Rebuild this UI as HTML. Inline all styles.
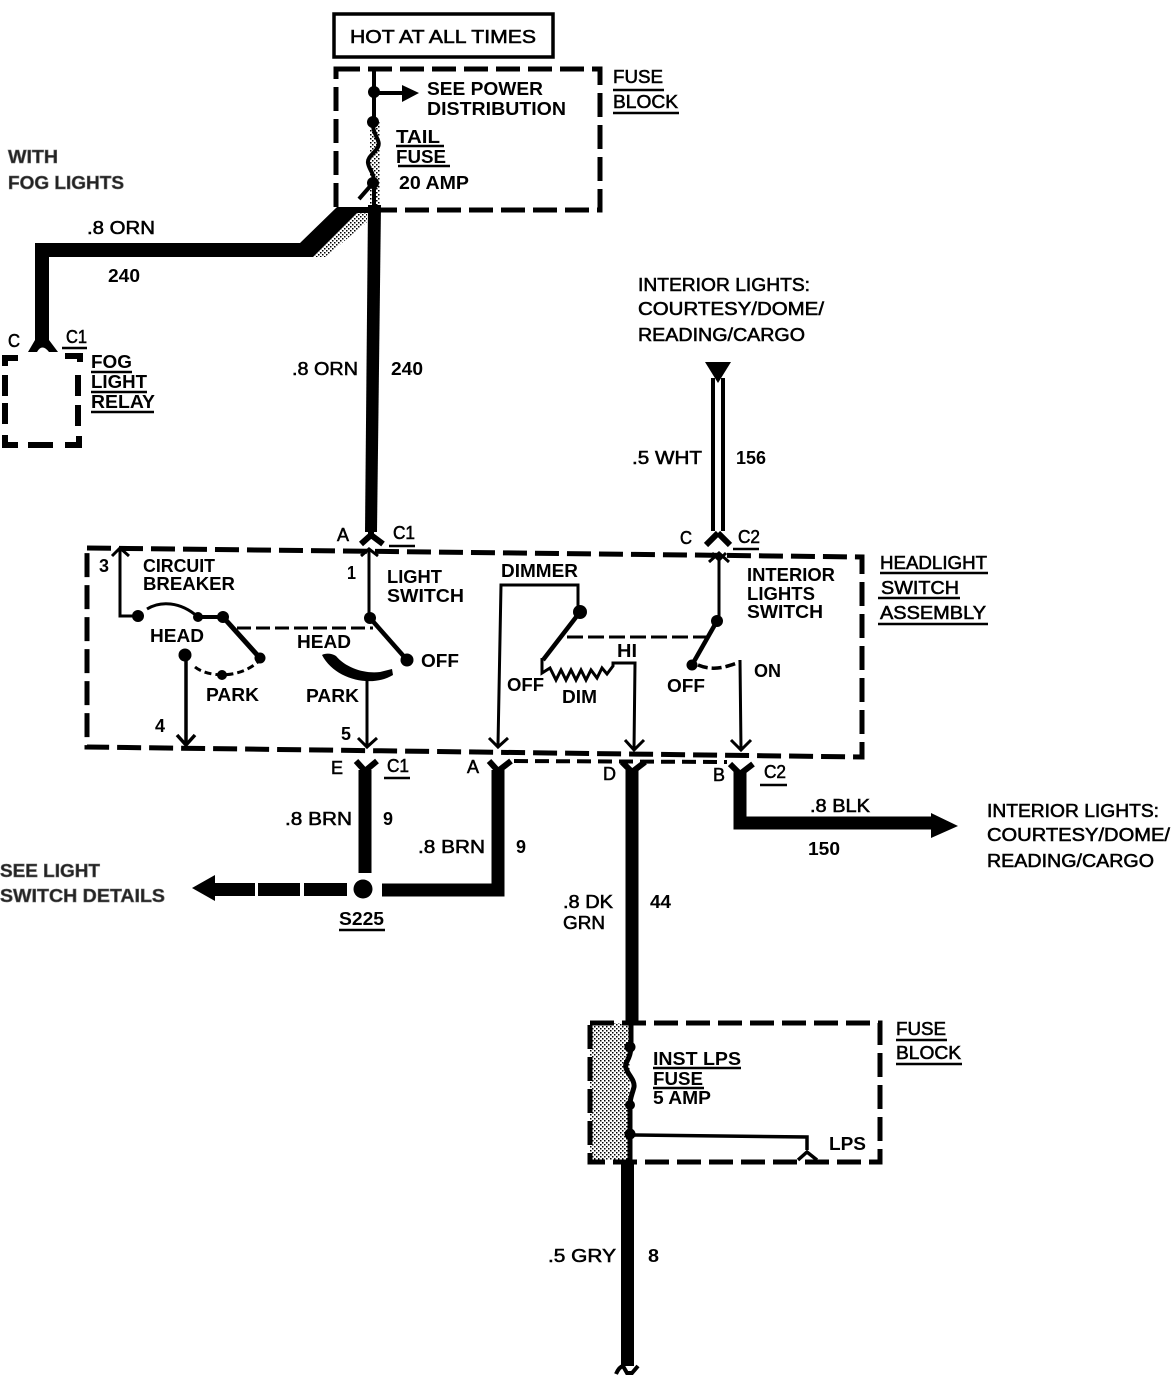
<!DOCTYPE html>
<html><head><meta charset="utf-8"><style>
html,body{margin:0;padding:0;background:#fff}
svg{display:block}
text{font-family:"Liberation Sans",sans-serif;font-size:18px;font-weight:bold;fill:#000}
.r{font-weight:normal;stroke:#000;stroke-width:.55px}
.g{fill:#222;stroke:#666;stroke-width:.6px}
.k{fill:none;stroke:#000}
.d{fill:none;stroke:#000;stroke-dasharray:24 8;stroke-width:5}
</style></head><body>
<svg width="1172" height="1376" viewBox="0 0 1172 1376" xmlns="http://www.w3.org/2000/svg">
<defs><pattern id="st" width="4" height="4" patternUnits="userSpaceOnUse"><rect width="4" height="4" fill="#fff"/><rect width="1.5" height="1.5" fill="#000"/><rect x="2" y="2" width="1.5" height="1.5" fill="#000"/></pattern></defs>

<!-- top box -->
<rect x="334" y="14" width="219" height="43" fill="none" stroke="#000" stroke-width="3.5"/>
<text class="r" x="350" y="43" textLength="186" lengthAdjust="spacingAndGlyphs">HOT AT ALL TIMES</text>

<!-- top fuse block -->
<rect x="370" y="120" width="10" height="85" fill="url(#st)"/>
<path d="M313 257L357 212H367V222L325 257Z" fill="url(#st)"/>
<rect x="336" y="69" width="264" height="141" class="d"/>
<path class="k" stroke-width="4" d="M374 68V122"/>
<circle cx="374" cy="92" r="6"/><circle cx="373" cy="122" r="6"/>
<path class="k" stroke-width="4" d="M374 93H405"/>
<path d="M402 85L419 93L402 102Z"/>
<path class="k" stroke-width="4" d="M373 126C374 136 381 141 378 147C375 153 367 157 368 163C369 170 374 172 374 182V206"/>
<circle cx="373" cy="183" r="6"/>
<path class="k" stroke-width="4" d="M373 183L359 199"/>

<!-- main wires top -->
<path d="M368 205H381L377 532H365Z"/>
<path d="M35 243H300L337 207H372V213H357L313 257H49V340H35Z"/>
<path d="M35 340L28 352H58L49 340Z"/>
<path d="M37 352Q42 343 49 352Z" fill="#fff"/>
<path class="k" stroke-width="6" d="M371 531V536M371 535L361 544M371 535L383 544"/>

<!-- fog relay -->
<path class="k" stroke-width="6" d="M5 366V358H18M5 375V396M5 403V424M5 435V445H18M28 445H53M65 445H79V436M78 375V396M78 405V426M65 356H80V362"/>
<text x="8" y="347" textLength="12" lengthAdjust="spacingAndGlyphs" class="r">C</text>
<text x="66" y="343" textLength="21" lengthAdjust="spacingAndGlyphs" class="r">C1</text>
<path class="k" stroke-width="2.5" d="M62 348H87M91 372H132M91 392H147M91 412H154"/>
<text x="91" y="368" textLength="41" lengthAdjust="spacingAndGlyphs">FOG</text>
<text x="91" y="388" textLength="56" lengthAdjust="spacingAndGlyphs">LIGHT</text>
<text x="91" y="408" textLength="64" lengthAdjust="spacingAndGlyphs">RELAY</text>

<text class="g" x="8" y="163" textLength="50" lengthAdjust="spacingAndGlyphs">WITH</text>
<text class="g" x="8" y="189" textLength="116" lengthAdjust="spacingAndGlyphs">FOG LIGHTS</text>
<text class="r" x="87" y="234" textLength="68" lengthAdjust="spacingAndGlyphs">.8 ORN</text>
<text x="108" y="282" textLength="32" lengthAdjust="spacingAndGlyphs">240</text>
<text class="r" x="292" y="375" textLength="66" lengthAdjust="spacingAndGlyphs">.8 ORN</text>
<text x="391" y="375" textLength="32" lengthAdjust="spacingAndGlyphs">240</text>

<text x="427" y="95" textLength="116" lengthAdjust="spacingAndGlyphs">SEE POWER</text>
<text x="427" y="115" textLength="139" lengthAdjust="spacingAndGlyphs">DISTRIBUTION</text>
<text x="396" y="143" textLength="44" lengthAdjust="spacingAndGlyphs">TAIL</text>
<text x="396" y="163" textLength="50" lengthAdjust="spacingAndGlyphs">FUSE</text>
<text x="399" y="189" textLength="70" lengthAdjust="spacingAndGlyphs">20 AMP</text>
<path class="k" stroke-width="2.5" d="M396 146H444M398 166H450"/>
<text class="r" x="613" y="83" textLength="50" lengthAdjust="spacingAndGlyphs">FUSE</text>
<text class="r" x="613" y="108" textLength="65" lengthAdjust="spacingAndGlyphs">BLOCK</text>
<path class="k" stroke-width="2.5" d="M613 90H664M613 113H679"/>

<!-- interior lights top -->
<text class="r" x="638" y="291" textLength="172" lengthAdjust="spacingAndGlyphs">INTERIOR LIGHTS:</text>
<text class="r" x="638" y="315" textLength="186" lengthAdjust="spacingAndGlyphs">COURTESY/DOME/</text>
<text class="r" x="638" y="341" textLength="167" lengthAdjust="spacingAndGlyphs">READING/CARGO</text>
<path d="M705 362H731L718 383Z"/>
<path class="k" stroke-width="4" d="M713 378V531M723 378V531"/>
<path class="k" stroke-width="6" d="M718 533L706 545M718 533L730 545"/>
<text class="r" x="632" y="464" textLength="70" lengthAdjust="spacingAndGlyphs">.5 WHT</text>
<text x="736" y="464" textLength="30" lengthAdjust="spacingAndGlyphs">156</text>

<text class="r" x="337" y="541" textLength="12" lengthAdjust="spacingAndGlyphs">A</text>
<text class="r" x="393" y="539" textLength="22" lengthAdjust="spacingAndGlyphs">C1</text>
<text class="r" x="680" y="544" textLength="12" lengthAdjust="spacingAndGlyphs">C</text>
<text class="r" x="738" y="543" textLength="22" lengthAdjust="spacingAndGlyphs">C2</text>
<path class="k" stroke-width="2.5" d="M389 546H415M733 549H759"/>

<!-- headlight switch assembly -->
<path class="d" d="M87 548L862 557V757L87 747Z"/>
<path class="k" stroke-width="4" d="M514 761L727 762" stroke-dasharray="14 7"/>
<path class="k" stroke-width="3" d="M120 548V616H138M112 556L120 548L129 556"/>
<path class="k" stroke-width="3" d="M369 549V618M361 556L369 549L378 556"/>
<path class="k" stroke-width="3" d="M719 553V620M709 562L719 553L729 562M712 553L719 560L726 553"/>
<path class="k" stroke-width="3" d="M147 609C160 601 180 601 198 617"/>
<circle cx="138" cy="616" r="6"/><circle cx="198" cy="617" r="5"/><circle cx="223" cy="617" r="6"/>
<path class="k" stroke-width="4" d="M198 617H223"/>
<path class="k" stroke-width="5" d="M223 617L260 658"/>
<circle cx="260" cy="658" r="5.5"/>
<path class="k" stroke-width="3" stroke-dasharray="7 4" d="M195 667C207 677 240 680 260 660"/>
<circle cx="222" cy="675" r="5"/>
<circle cx="185" cy="655" r="6.5"/>
<path class="k" stroke-width="3.5" d="M186 655V745M177 735L186 745L195 735"/>
<path class="k" stroke-width="3" stroke-dasharray="14 5" d="M237 628H373"/>
<circle cx="370" cy="618" r="6"/>
<path class="k" stroke-width="4.5" d="M370 618L407 660"/>
<circle cx="407" cy="660" r="6.5"/>
<path d="M322 655C325 653 332 653 336 656C346 668 365 674 380 672L392 669L393 675C372 688 335 680 322 655Z"/>
<path class="k" stroke-width="3" d="M367 680V747M358 738L367 747L377 738"/>

<path class="k" stroke-width="3" d="M498 745L501 585H578V610M489 738L498 747L508 738"/>
<circle cx="580" cy="612" r="7"/>
<path class="k" stroke-width="4.5" d="M580 612L543 660"/>
<path class="k" stroke-width="3" d="M542 658V673L550 668L556 680L561 670L566 680L571 670L576 680L581 670L586 680L591 670L597 678L602 668L607 674L613 666V663H635L634 750"/>
<path class="k" stroke-width="3" d="M625 740L634 750L644 740"/>
<path class="k" stroke-width="3" stroke-dasharray="16 5" d="M567 637H707"/>
<circle cx="717" cy="621" r="6"/>
<path class="k" stroke-width="4.5" d="M717 621L692 665"/>
<circle cx="692" cy="665" r="5.5"/>
<path class="k" stroke-width="3.5" stroke-dasharray="10 4" d="M698 665C715 672 728 666 740 662"/>
<path class="k" stroke-width="3" d="M740 660L741 750M731 740L741 750L751 740"/>

<text x="99" y="572" textLength="10" lengthAdjust="spacingAndGlyphs">3</text>
<text x="143" y="572" textLength="72" lengthAdjust="spacingAndGlyphs">CIRCUIT</text>
<text x="143" y="590" textLength="92" lengthAdjust="spacingAndGlyphs">BREAKER</text>
<text x="347" y="579" textLength="9" lengthAdjust="spacingAndGlyphs">1</text>
<text x="387" y="583" textLength="55" lengthAdjust="spacingAndGlyphs">LIGHT</text>
<text x="387" y="602" textLength="77" lengthAdjust="spacingAndGlyphs">SWITCH</text>
<text x="501" y="577" textLength="77" lengthAdjust="spacingAndGlyphs">DIMMER</text>
<text x="747" y="581" textLength="88" lengthAdjust="spacingAndGlyphs">INTERIOR</text>
<text x="747" y="600" textLength="68" lengthAdjust="spacingAndGlyphs">LIGHTS</text>
<text x="747" y="618" textLength="76" lengthAdjust="spacingAndGlyphs">SWITCH</text>
<text x="150" y="642" textLength="54" lengthAdjust="spacingAndGlyphs">HEAD</text>
<text x="297" y="648" textLength="54" lengthAdjust="spacingAndGlyphs">HEAD</text>
<text x="421" y="667" textLength="38" lengthAdjust="spacingAndGlyphs">OFF</text>
<text x="206" y="701" textLength="53" lengthAdjust="spacingAndGlyphs">PARK</text>
<text x="306" y="702" textLength="53" lengthAdjust="spacingAndGlyphs">PARK</text>
<text x="155" y="732" textLength="10" lengthAdjust="spacingAndGlyphs">4</text>
<text x="341" y="740" textLength="10" lengthAdjust="spacingAndGlyphs">5</text>
<text x="507" y="691" textLength="37" lengthAdjust="spacingAndGlyphs">OFF</text>
<text x="562" y="703" textLength="35" lengthAdjust="spacingAndGlyphs">DIM</text>
<text x="617" y="657" textLength="20" lengthAdjust="spacingAndGlyphs">HI</text>
<text x="667" y="692" textLength="38" lengthAdjust="spacingAndGlyphs">OFF</text>
<text x="754" y="677" textLength="27" lengthAdjust="spacingAndGlyphs">ON</text>

<text class="r" x="880" y="569" textLength="107" lengthAdjust="spacingAndGlyphs">HEADLIGHT</text>
<text class="r" x="881" y="594" textLength="78" lengthAdjust="spacingAndGlyphs">SWITCH</text>
<text class="r" x="880" y="619" textLength="106" lengthAdjust="spacingAndGlyphs">ASSEMBLY</text>
<path class="k" stroke-width="2.5" d="M880 573H988M878 598H960M878 624H988"/>

<!-- lower connectors and wires -->
<g fill="none" stroke="#000">
<path stroke-width="13" d="M365 770V873"/>
<path stroke-width="6" d="M356 761L365 771L377 761M489 761L498 771L511 761M622 762L632 772L645 762M730 764L740 774L753 764"/>
<path stroke-width="13" d="M498 770V890H382"/>
<path stroke-width="13" d="M632 770V1022"/>
<path stroke-width="13" d="M740 770V823H935"/>
<path stroke-width="13" d="M627.5 1160V1366"/>
<path stroke-width="4" d="M616 1374Q619 1367 623 1366L627 1373H632L638 1366"/>
</g>
<path d="M931 813L958 826L931 838Z"/>
<circle cx="363" cy="889" r="9.5"/>
<path d="M192 888L215 875V901Z"/>
<path d="M215 883H255V896H215ZM258 883H300V896H258ZM304 883H347V896H304Z"/>

<text class="r" x="331" y="774" textLength="12" lengthAdjust="spacingAndGlyphs">E</text>
<text class="r" x="387" y="772" textLength="22" lengthAdjust="spacingAndGlyphs">C1</text>
<text class="r" x="467" y="773" textLength="12" lengthAdjust="spacingAndGlyphs">A</text>
<text class="r" x="603" y="780" textLength="13" lengthAdjust="spacingAndGlyphs">D</text>
<text class="r" x="713" y="781" textLength="12" lengthAdjust="spacingAndGlyphs">B</text>
<text class="r" x="764" y="778" textLength="22" lengthAdjust="spacingAndGlyphs">C2</text>
<path class="k" stroke-width="2.5" d="M384 778H410M760 785H787"/>
<text class="r" x="285" y="825" textLength="67" lengthAdjust="spacingAndGlyphs">.8 BRN</text>
<text x="383" y="825" textLength="10" lengthAdjust="spacingAndGlyphs">9</text>
<text class="r" x="418" y="853" textLength="67" lengthAdjust="spacingAndGlyphs">.8 BRN</text>
<text x="516" y="853" textLength="10" lengthAdjust="spacingAndGlyphs">9</text>
<text class="r" x="810" y="812" textLength="60" lengthAdjust="spacingAndGlyphs">.8 BLK</text>
<text x="808" y="855" textLength="32" lengthAdjust="spacingAndGlyphs">150</text>
<text class="r" x="987" y="817" textLength="172" lengthAdjust="spacingAndGlyphs">INTERIOR LIGHTS:</text>
<text class="r" x="987" y="841" textLength="183" lengthAdjust="spacingAndGlyphs">COURTESY/DOME/</text>
<text class="r" x="987" y="867" textLength="167" lengthAdjust="spacingAndGlyphs">READING/CARGO</text>
<text class="g" x="0" y="877" textLength="100" lengthAdjust="spacingAndGlyphs">SEE LIGHT</text>
<text class="g" x="0" y="902" textLength="165" lengthAdjust="spacingAndGlyphs">SWITCH DETAILS</text>
<text x="339" y="925" textLength="45" lengthAdjust="spacingAndGlyphs">S225</text>
<path class="k" stroke-width="2.5" d="M339 930H385"/>
<text class="r" x="563" y="908" textLength="50" lengthAdjust="spacingAndGlyphs">.8 DK</text>
<text class="r" x="563" y="929" textLength="42" lengthAdjust="spacingAndGlyphs">GRN</text>
<text x="650" y="908" textLength="21" lengthAdjust="spacingAndGlyphs">44</text>

<!-- lower fuse block -->
<rect x="590" y="1023" width="40" height="137" fill="url(#st)"/>
<rect x="590" y="1023" width="290" height="139" class="d"/>
<path class="k" stroke-width="5" d="M631 1020V1045C631 1060 624 1062 626 1068C628 1075 635 1080 634 1087C632 1095 630 1098 630 1105V1160"/>
<circle cx="630" cy="1047" r="5.5"/><circle cx="630" cy="1105" r="5"/><circle cx="630" cy="1134" r="5.5"/>
<path class="k" stroke-width="3.5" d="M630 1135L807 1137V1150M798 1160L807 1152L817 1160"/>
<text x="653" y="1065" textLength="88" lengthAdjust="spacingAndGlyphs">INST LPS</text>
<text x="653" y="1085" textLength="50" lengthAdjust="spacingAndGlyphs">FUSE</text>
<text x="653" y="1104" textLength="58" lengthAdjust="spacingAndGlyphs">5 AMP</text>
<path class="k" stroke-width="2.5" d="M653 1068H741M653 1088H704"/>
<text x="829" y="1150" textLength="37" lengthAdjust="spacingAndGlyphs">LPS</text>
<text class="r" x="896" y="1035" textLength="50" lengthAdjust="spacingAndGlyphs">FUSE</text>
<text class="r" x="896" y="1059" textLength="65" lengthAdjust="spacingAndGlyphs">BLOCK</text>
<path class="k" stroke-width="2.5" d="M896 1040H947M896 1064H962"/>
<text class="r" x="548" y="1262" textLength="68" lengthAdjust="spacingAndGlyphs">.5 GRY</text>
<text x="648" y="1262" textLength="11" lengthAdjust="spacingAndGlyphs">8</text>
</svg>
</body></html>
